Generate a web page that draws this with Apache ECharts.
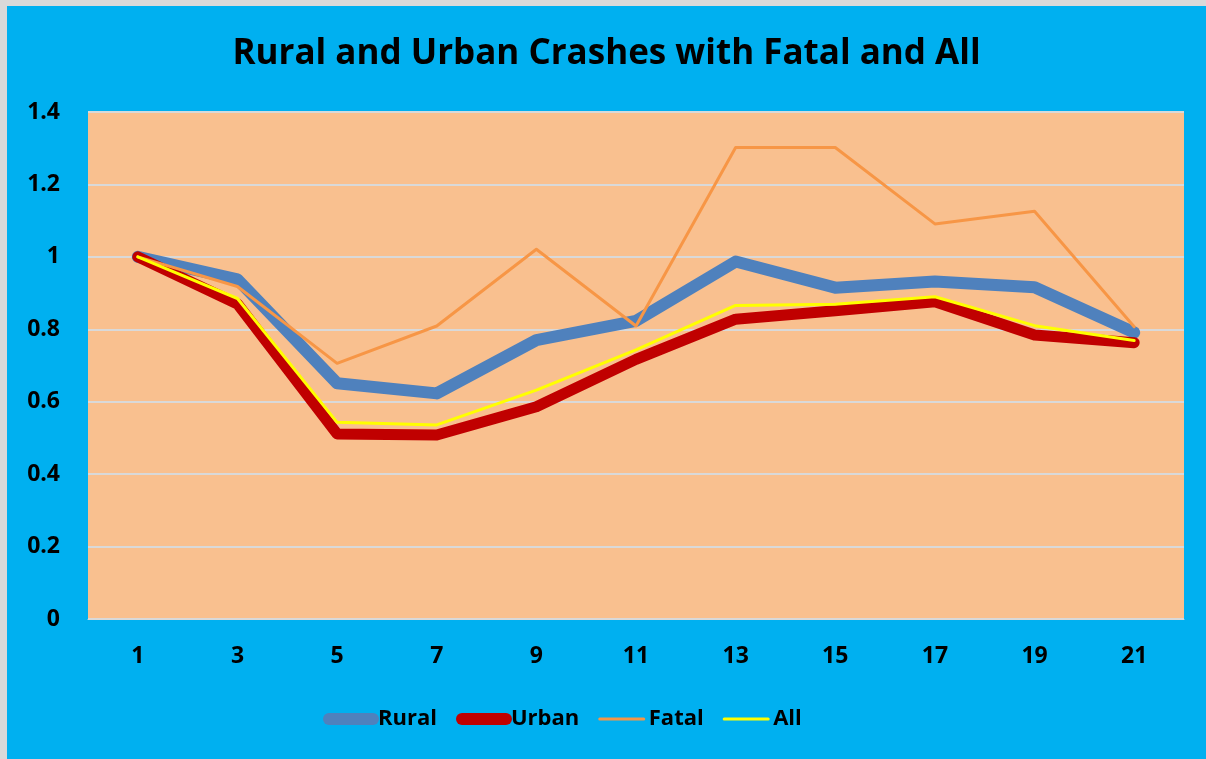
<!DOCTYPE html>
<html>
<head>
<meta charset="utf-8">
<script src="https://cdn.jsdelivr.net/npm/echarts@6/dist/echarts.min.js"></script>
<style>
  html, body { margin: 0; padding: 0; background: #d9d9d9; }
  #chart { position: absolute; left: 7px; top: 6px; width: 1199px; height: 753px; }
</style>
</head>
<body>
<div id="chart"></div>
<script>
// x categories (every other period)
const periods = ['1', '3', '5', '7', '9', '11', '13', '15', '17', '19', '21']
// values
const rural = [1.0, 0.938, 0.651, 0.623, 0.770, 0.823, 0.987, 0.915, 0.932, 0.916, 0.791]
const urban = [1.0, 0.870, 0.511, 0.508, 0.586, 0.717, 0.828, 0.851, 0.876, 0.784, 0.763]
const fatal = [1.0, 0.918, 0.706, 0.809, 1.021, 0.809, 1.302, 1.302, 1.091, 1.126, 0.807]
const all = [1.0, 0.885, 0.543, 0.536, 0.632, 0.743, 0.866, 0.869, 0.890, 0.810, 0.769]

const font = '"Open Sans", Lato, sans-serif'
const chart = echarts.init(document.getElementById('chart'))

function lineSeries(name, data, color, width, z) {
  return {
    name: name,
    type: 'line',
    data: data,
    symbol: 'none',
    z: z,
    lineStyle: { color: color, width: width, cap: 'round', join: 'round' },
    itemStyle: { color: color }
  }
}

let option = {
  backgroundColor: '#00b0f0',
  animation: false,
  title: {
    text: 'Rural and Urban Crashes with Fatal and All',
    left: 'center',
    top: 26,
    textStyle: { fontFamily: font, fontSize: 35, fontWeight: 'bold', color: '#000' }
  },
  grid: {
    left: 81,
    right: 22,
    top: 106,
    bottom: 140,
    show: true,
    backgroundColor: '#f9c08f',
    borderWidth: 0
  },
  legend: {
    left: 311,
    top: 697,
    itemWidth: 44,
    itemHeight: 14,
    itemGap: 19,
    textStyle: { fontFamily: font, fontSize: 22, fontWeight: 'bold', color: '#000' },
    data: [
      { name: 'Rural', itemStyle: { opacity: 0 }, lineStyle: { width: 12, cap: 'round', color: '#4f81bd' } },
      { name: 'Urban', itemStyle: { opacity: 0 }, lineStyle: { width: 12, cap: 'round', color: '#c00000' } },
      { name: 'Fatal', itemStyle: { opacity: 0 }, lineStyle: { width: 3, color: '#f79646' } },
      { name: 'All', itemStyle: { opacity: 0 }, lineStyle: { width: 3, color: '#ffff00' } }
    ]
  },
  xAxis: {
    type: 'category',
    data: periods,
    boundaryGap: true,
    axisLine: { show: true, lineStyle: { color: '#d9d9d9', width: 1 } },
    axisTick: { show: false },
    axisLabel: { fontFamily: font, fontSize: 23, fontWeight: 'bold', color: '#000', margin: 26 }
  },
  yAxis: {
    type: 'value',
    min: 0,
    max: 1.4,
    interval: 0.2,
    axisLine: { show: false },
    axisTick: { show: false },
    splitLine: { lineStyle: { color: '#d9d9d9', width: 2 } },
    axisLabel: {
      fontFamily: font, fontSize: 23, fontWeight: 'bold', color: '#000', margin: 28,
      formatter: function(v) { return String(parseFloat(v.toFixed(1))) }
    }
  },
  series: [
    lineSeries('Rural', rural, '#4f81bd', 12, 2),
    lineSeries('Urban', urban, '#c00000', 11, 3),
    lineSeries('Fatal', fatal, '#f79646', 3, 4),
    lineSeries('All', all, '#ffff00', 3, 5)
  ]
}
chart.setOption(option)
window.addEventListener('resize', () => { chart.resize() })
</script>
</body>
</html>
